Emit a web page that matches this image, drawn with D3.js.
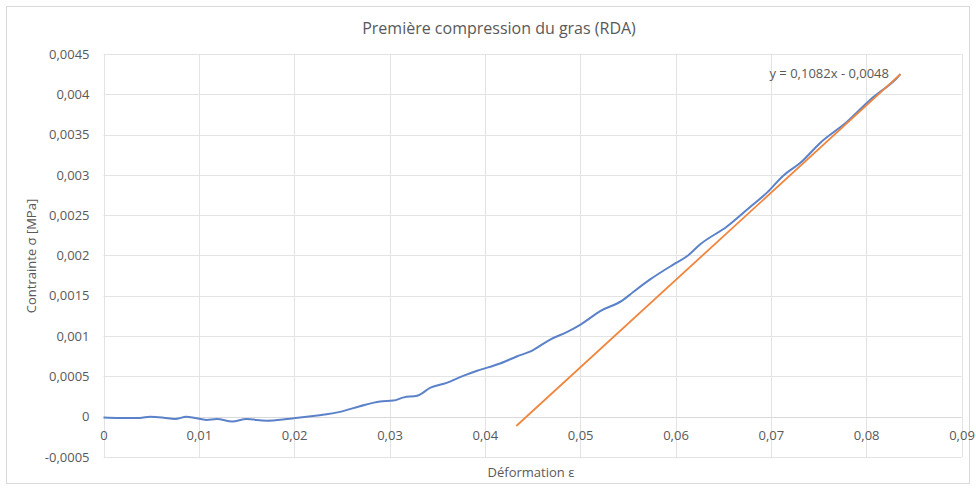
<!DOCTYPE html>
<html>
<head>
<meta charset="utf-8">
<script src="https://cdn.jsdelivr.net/npm/d3@7"></script>
<style>
	body { margin: 0; background: #fff; }
	text { font-family: "Open Sans", "Noto Sans", sans-serif; fill: #595959; }
</style>
</head>
<body>
<svg width="976" height="488"></svg>
<script>
// Première compression du gras (RDA) - stress/strain curve with linear trendline

var strain = [0, 0.0017, 0.0038, 0.0049, 0.0063, 0.0075, 0.0087, 0.0096, 0.0108, 0.0119,
	0.0135, 0.0150, 0.0171, 0.0192, 0.0206, 0.0220, 0.0234, 0.0248, 0.0269, 0.0290,
	0.0304, 0.0315, 0.0329, 0.0343, 0.0360, 0.0378, 0.0392, 0.0416, 0.0434, 0.0448,
	0.0469, 0.0486, 0.0500, 0.0521, 0.0544, 0.0556, 0.0573, 0.0598, 0.0612, 0.0626,
	0.0654, 0.0678, 0.0696, 0.0713, 0.0731, 0.0752, 0.0780, 0.0804, 0.0832, 0.0836];
var stress = [-0.00001, -0.000016, -0.000016, 0.0, -0.000012, -0.00003, 0.0, -0.000016, -0.00004, -0.00003,
	-0.00006, -0.00003, -0.00005, -0.00003, -0.00001, 0.00001, 0.00003, 0.00006, 0.00013, 0.00019,
	0.0002, 0.00024, 0.00026, 0.00036, 0.00042, 0.00051, 0.00057, 0.00066, 0.00075, 0.00081,
	0.00096, 0.00105, 0.00114, 0.00131, 0.00144, 0.00155, 0.0017, 0.00189, 0.00199, 0.00214,
	0.00236, 0.0026, 0.00278, 0.00299, 0.00315, 0.0034, 0.00366, 0.00393, 0.0042, 0.00425];

// trendline end points (y = 0,1082x - 0,0048)
var trendX = [0.0433, 0.0836];
var trendY = [-0.000115, 0.00425];
var trendLabel = "y = 0,1082x - 0,0048";

var xTicks = [0, 0.01, 0.02, 0.03, 0.04, 0.05, 0.06, 0.07, 0.08, 0.09];
var yTicks = [-0.0005, 0, 0.0005, 0.001, 0.0015, 0.002, 0.0025, 0.003, 0.0035, 0.004, 0.0045];

function draw(){
	var svg = d3.select("svg");
	var left = 103.5, right = 961.5, top = 54, bottom = 457;

	var x = d3.scaleLinear().domain([0, 0.09]).range([left, right]);
	var y = d3.scaleLinear().domain([-0.0005, 0.0045]).range([bottom, top]);
	var fmt = d => String(+d.toFixed(4)).replace(".", ",");

	// chart frame
	svg.append("rect")
		.attr("x", 6.5).attr("y", 6.5)
		.attr("width", 963).attr("height", 477)
		.attr("fill", "#fff")
		.attr("stroke", "#d9d9d9");

	// grid
	svg.append("g")
		.selectAll("line")
		.data(yTicks)
		.enter().append("line")
		.attr("x1", left).attr("x2", right)
		.attr("y1", d => Math.round(y(d)) + 0.5)
		.attr("y2", d => Math.round(y(d)) + 0.5)
		.attr("stroke", "#e3e3e3");
	svg.append("g")
		.selectAll("line")
		.data(xTicks)
		.enter().append("line")
		.attr("y1", top).attr("y2", bottom)
		.attr("x1", d => Math.round(x(d)) + 0.5)
		.attr("x2", d => Math.round(x(d)) + 0.5)
		.attr("stroke", "#e3e3e3");

	// y axis labels
	var yAxis = svg.append("g")
		.attr("transform", "translate(" + (left - 14) + ",0)")
		.call(d3.axisLeft(y).tickValues(yTicks).tickFormat(fmt).tickSize(0).tickPadding(0));
	yAxis.select(".domain").remove();
	yAxis.selectAll("text").attr("font-size", 13).attr("fill", "#595959");

	// x axis labels, sitting under the zero line
	var xAxis = svg.append("g")
		.attr("transform", "translate(0," + y(0) + ")")
		.call(d3.axisBottom(x).tickValues(xTicks).tickFormat(fmt).tickSize(0).tickPadding(14));
	xAxis.select(".domain").remove();
	xAxis.selectAll("text").attr("font-size", 13).attr("fill", "#595959");

	// zero line a bit darker
	svg.append("line")
		.attr("x1", left).attr("x2", right)
		.attr("y1", Math.round(y(0)) + 0.5).attr("y2", Math.round(y(0)) + 0.5)
		.attr("stroke", "#d9d9d9");

	// data curve
	var pts = strain.map((s, i) => [s, stress[i]]);
	svg.append("path")
		.datum(pts)
		.attr("fill", "none")
		.attr("stroke", "#5b82c9")
		.attr("stroke-width", 2)
		.attr("stroke-linejoin", "round")
		.attr("d", d3.line().x(d => x(d[0])).y(d => y(d[1])).curve(d3.curveMonotoneX));

	// trendline
	var tpts = trendX.map((s, i) => [s, trendY[i]]);
	svg.append("path")
		.datum(tpts)
		.attr("fill", "none")
		.attr("stroke", "#f0863e")
		.attr("stroke-width", 1.8)
		.attr("d", d3.line().x(d => x(d[0])).y(d => y(d[1])));

	svg.append("text")
		.attr("x", 889).attr("y", 78)
		.attr("text-anchor", "end")
		.attr("font-size", 13)
		.text(trendLabel);

	// titles
	svg.append("text")
		.attr("x", 499).attr("y", 34)
		.attr("text-anchor", "middle")
		.attr("font-size", 16)
		.text("Première compression du gras (RDA)");

	svg.append("text")
		.attr("x", 531).attr("y", 477)
		.attr("text-anchor", "middle")
		.attr("font-size", 13)
		.text("Déformation ε");

	svg.append("text")
		.attr("transform", "translate(36,256) rotate(-90)")
		.attr("text-anchor", "middle")
		.attr("font-size", 13)
		.text("Contrainte σ [MPa]");
}

draw();
</script>
</body>
</html>
